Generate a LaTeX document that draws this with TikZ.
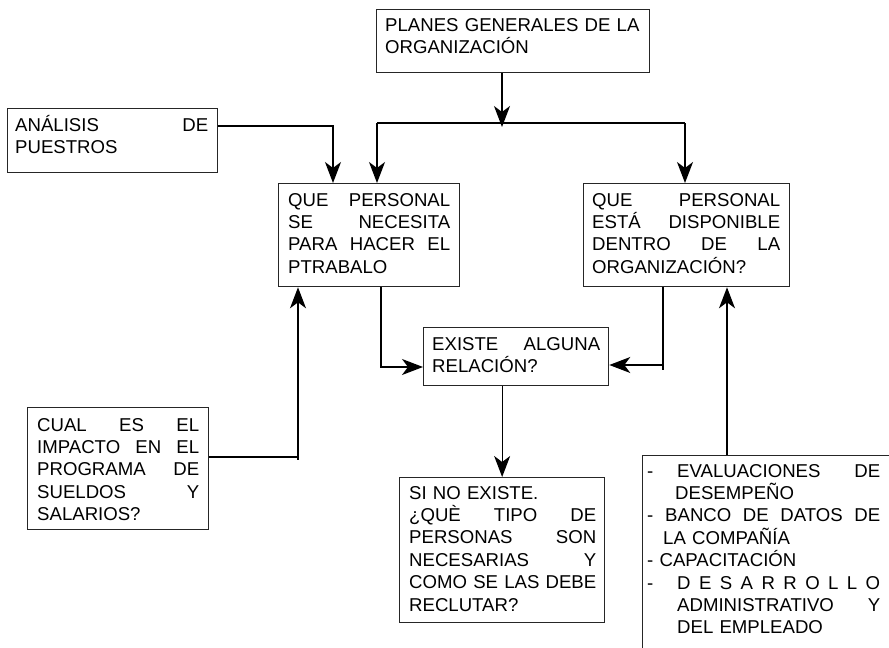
\documentclass[tikz,border=0pt]{standalone}
\usepackage{fontspec}
\setmainfont{Liberation Sans}
\usetikzlibrary{arrows.meta,calc}
\begin{document}
\begin{tikzpicture}[x=1pt,y=-1pt,
 box/.style={draw=black!85, line width=1.3pt, inner sep=0pt, anchor=north west},
 txt/.style={inner sep=0pt, anchor=base west, align=left, font=\fontsize{18.6}{22.4}\selectfont},
 arr/.style={line width=1.3pt, -{Stealth[length=21pt,width=16pt,inset=6pt]}},
 ln/.style={line width=1.3pt}]
\useasboundingbox[fill=white] (0,0) rectangle (889,648);
% boxes
\node[box, minimum width=273pt, minimum height=63pt] (plan) at (376,9) {};
\node[box, minimum width=210pt, minimum height=64pt] (ana) at (7,108) {};
\node[box, minimum width=181pt, minimum height=103pt] (q1) at (278,183) {};
\node[box, minimum width=206pt, minimum height=103pt] (q2) at (583,183) {};
\node[box, minimum width=185pt, minimum height=58pt] (exi) at (423,327) {};
\node[box, minimum width=181pt, minimum height=122pt] (cual) at (27,407) {};
\node[box, minimum width=205pt, minimum height=145pt] (sino) at (399,477) {};
\begin{scope}
\clip (0,0) rectangle (889,648);
\node[box, minimum width=260pt, minimum height=210pt] (res) at (642,455) {};
\end{scope}
% texts
\node[txt, text width=262pt] (plant) at (385,31.5) {PLANES GENERALES DE LA\\ORGANIZACIÓN};
\node[txt, text width=193pt] (anat) at (15,131) {ANÁLISIS\hfill DE\\PUESTROS};
\node[txt, text width=162pt] (q1t) at (288,206) {QUE\hfill PERSONAL\\SE\hfill NECESITA\\PARA\hfill HACER\hfill EL\\PTRABALO};
\node[txt, text width=188pt] (q2t) at (592,206) {QUE\hfill PERSONAL\\ESTÁ\hfill DISPONIBLE\\DENTRO\hfill DE\hfill LA\\ORGANIZACIÓN?};
\node[txt, text width=168pt] (exit) at (432,350) {EXISTE\hfill ALGUNA\\RELACIÓN?};
\node[txt, text width=162pt] (cualt) at (37,431) {CUAL\hfill ES\hfill EL\\IMPACTO\hfill EN\hfill EL\\PROGRAMA\hfill DE\\SUELDOS\hfill Y\\SALARIOS?};
\node[txt, text width=187pt] (sinot) at (409,499) {SI NO EXISTE.\\¿QUÈ\hfill TIPO\hfill DE\\PERSONAS\hfill SON\\NECESARIAS\hfill Y\\\mbox{COMO SE LAS DEBE}\\RECLUTAR?};
\node[txt, text width=233pt] (rest) at (647,477) {\makebox[30pt][l]{-}EVALUACIONES\hfill DE\\\hspace*{28pt}DESEMPEÑO\\\makebox[18pt][l]{-}BANCO\hfill DE\hfill DATOS\hfill DE\\\hspace*{16pt}LA COMPAÑÍA\\- CAPACITACIÓN\\\makebox[30pt][l]{-}D\hfill E\hfill S\hfill A\hfill R\hfill R\hfill O\hfill L\hfill L\hfill O\\\hspace*{30pt}ADMINISTRATIVO\hfill Y\\\hspace*{30pt}DEL EMPLEADO};
% connectors
\coordinate (pm) at (502,127);
\coordinate (bl) at (377,123);
\coordinate (br) at (685,123);
\draw[arr] (pm |- plan.south) -- (pm);
\draw[ln] (bl) -- (br);
\draw[arr] (bl) -- (bl |- q1.north);
\draw[arr] (br) -- (br |- q2.north);
\coordinate (a1) at (333,126);
\draw[arr] (ana.east |- a1) -- (a1) -- (a1 |- q1.north);
\coordinate (c1) at (381,367);
\draw[arr] (c1 |- q1.south) -- (c1) -- (c1 -| exi.west);
\coordinate (c2) at (663,365);
\draw[arr] (c2 |- q2.south) -- (c2) -- (c2 -| exi.east);
\draw[ln] (c2) -- ++(0,5);
\coordinate (c3) at (298,457);
\draw[arr] (cual.east |- c3) -- (c3) -- (c3 |- q1.south);
\draw[ln] (c3) -- ++(0,3);
\draw[arr] (exi.south -| sino.north) -- (sino.north);
\coordinate (c4) at (727,400);
\draw[arr] (c4 |- res.north) -- (c4 |- q2.south);
\end{tikzpicture}
\end{document}
